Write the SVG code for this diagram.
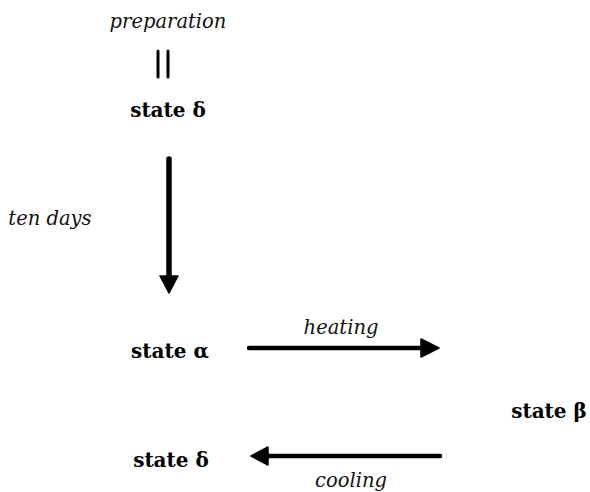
<svg xmlns="http://www.w3.org/2000/svg" width="590" height="492" viewBox="0 0 590 492">
<style>
text{font-family:'DejaVu Serif','Liberation Serif','Times New Roman',serif;text-anchor:middle}
.lbl{font-style:italic;font-size:19.5px;fill:#111}
.st{font-weight:bold;font-size:20px;fill:#000}
.ln{stroke:#000;stroke-linecap:round;fill:none}
.hd{fill:#000;stroke:#000;stroke-width:1.5;stroke-linejoin:round}
</style>
<rect width="590" height="492" fill="#fff"/>
<g id="prep">
<text class="lbl" x="168" y="28">preparation</text>
<line class="ln" x1="158" y1="51" x2="158" y2="77" stroke-width="3"/>
<line class="ln" x1="168" y1="51" x2="168" y2="77" stroke-width="3"/>
</g>
<g id="delta1"><text class="st" x="168" y="117">state δ</text></g>
<g id="alpha"><text class="st" x="170" y="358">state α</text></g>
<g id="beta"><text class="st" x="549" y="418">state β</text></g>
<g id="delta2"><text class="st" x="171" y="467">state δ</text></g>
<g id="connectors">
<line class="ln" x1="169" y1="159" x2="169" y2="278" stroke-width="5.5"/>
<polygon class="hd" points="160,276 178,276 169,293"/>
<text class="lbl" x="50" y="225">ten days</text>
<line class="ln" x1="249" y1="348" x2="422" y2="348" stroke-width="4.5"/>
<polygon class="hd" points="421,339 421,357 439,348"/>
<text class="lbl" x="341" y="334">heating</text>
<line class="ln" x1="440" y1="456" x2="267" y2="456" stroke-width="4.5"/>
<polygon class="hd" points="268,447 268,465 251,456"/>
<text class="lbl" x="351" y="487">cooling</text>
</g>
</svg>
